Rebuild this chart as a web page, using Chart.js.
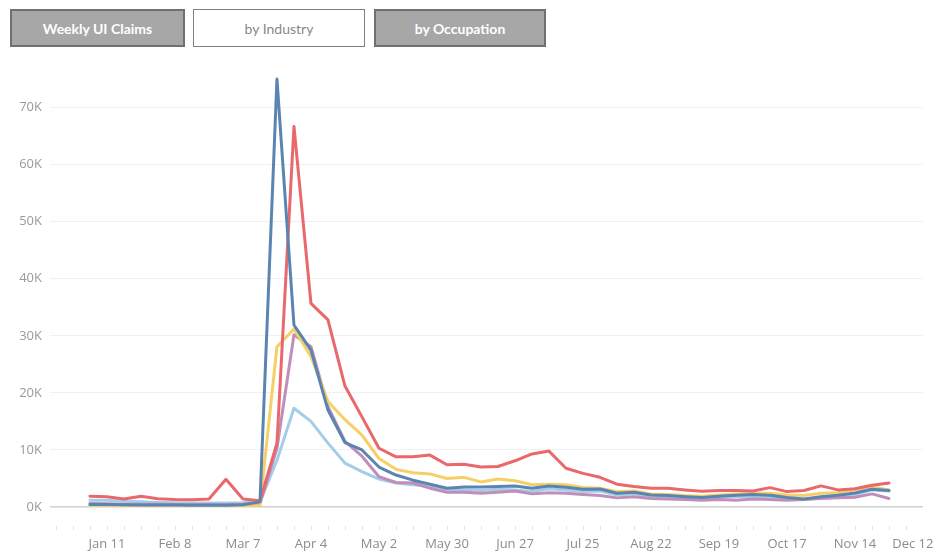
<!DOCTYPE html>
<html>
<head>
<meta charset="utf-8">
<script src="https://cdn.jsdelivr.net/npm/chart.js@4"></script>
<style>
  html, body { margin:0; padding:0; background:#fff; width:936px; height:552px; overflow:hidden; font-family: Lato, "Open Sans", sans-serif; }
  .btn { position:absolute; top:9px; height:38px; box-sizing:border-box; display:flex; align-items:center; justify-content:center; font-size:14px; }
  .grey { background:#a7a7a7; border:2px solid #707070; color:#fff; font-weight:bold; }
  .white { background:#fff; border:1.5px solid #808080; color:#888; }
  #wrap { position:absolute; left:0; top:55px; width:936px; height:497px; }
</style>
</head>
<body>
<div class="btn grey" style="left:10px;width:175px;">Weekly UI Claims</div>
<div class="btn white" style="left:193px;width:172px;">by Industry</div>
<div class="btn grey" style="left:374px;width:172px;">by Occupation</div>
<div id="wrap"><canvas id="c"></canvas></div>
<script>
// Week-ending dates (2020), one per weekly point
const weeks = ["Jan 4","Jan 11","Jan 18","Jan 25","Feb 1","Feb 8","Feb 15","Feb 22","Feb 29","Mar 7","Mar 14","Mar 21",
  "Mar 28","Apr 4","Apr 11","Apr 18","Apr 25","May 2","May 9","May 16","May 23","May 30","Jun 6","Jun 13",
  "Jun 20","Jun 27","Jul 4","Jul 11","Jul 18","Jul 25","Aug 1","Aug 8","Aug 15","Aug 22","Aug 29","Sep 5",
  "Sep 12","Sep 19","Sep 26","Oct 3","Oct 10","Oct 17","Oct 24","Oct 31","Nov 7","Nov 14","Nov 21","Nov 28"];

// X-axis tick labels (every 4 weeks, week index -> label)
const xTickIdx = [1,5,9,13,17,21,25,29,33,37,41,45,49];
const xTickLabels = ["Jan 11","Feb 8","Mar 7","Apr 4","May 2","May 30","Jun 27","Jul 25","Aug 22","Sep 19","Oct 17","Nov 14","Dec 12"];

// Y-axis tick values
const yTicks = [0,10000,20000,30000,40000,50000,60000,70000];

// Series values (weekly UI claims)
const seriesBlue = [450,450,400,350,350,350,300,300,300,400,900,75000,
  31900,27500,17000,11300,10000,7000,5600,4700,4000,3300,3500,3500,
  3600,3700,3300,3700,3450,3100,3150,2400,2600,2100,2000,1800,
  1650,1900,2050,2200,2050,1650,1400,1800,2050,2450,3100,2900];
const seriesRed = [1900,1800,1400,1900,1450,1300,1250,1400,4850,1400,1100,11200,
  66700,35700,32800,21200,15800,10300,8800,8800,9100,7400,7500,7000,
  7100,8100,9300,9800,6800,5900,5200,4000,3600,3300,3300,3000,
  2750,2900,2900,2800,3400,2700,2900,3700,3000,3200,3800,4200];
const seriesYellow = [300,300,250,250,250,250,200,200,200,200,200,28100,
  31200,26400,18500,15300,12600,8500,6600,6000,5800,5000,5200,4400,
  4900,4600,3900,4000,3900,3400,3300,2700,2800,2300,2200,2000,
  1900,2100,2300,2400,2400,2100,2000,2400,2500,3000,3500,3000];
const seriesPurple = [600,550,500,500,500,450,450,450,450,500,600,10300,
  30200,28100,17600,11500,8900,5300,4300,4200,3300,2600,2600,2400,
  2600,2800,2300,2500,2400,2200,2000,1600,1800,1500,1400,1300,
  1200,1300,1200,1400,1300,1200,1300,1500,1600,1700,2300,1500];
const seriesLightBlue = [1200,1200,1000,900,800,750,700,700,700,750,900,8200,
  17300,15000,11200,7700,6200,4900,4200,3900,3600,3100,3000,2900,
  3100,3000,2700,3200,3000,2700,2800,2100,2300,1900,1800,1600,
  1500,1700,1800,1900,1800,1400,1300,1700,1900,2200,3000,2800];

const FONT = '"Open Sans", Lato, sans-serif';
const toPts = arr => arr.map((v, i) => ({ x: i, y: v }));

const weekMarks = {
  id: 'weekMarks',
  afterDraw(chart) {
    const xs = chart.scales.x, ctx = chart.ctx;
    const y0 = chart.chartArea.bottom + 19;
    ctx.save();
    ctx.strokeStyle = '#e2e2e2';
    ctx.lineWidth = 1;
    for (let w = -2; w <= 49; w++) {
      const px = Math.round(xs.getPixelForValue(w)) + 0.5;
      if (px < chart.chartArea.left || px > chart.chartArea.right) continue;
      ctx.beginPath(); ctx.moveTo(px, y0); ctx.lineTo(px, y0 + 4); ctx.stroke();
    }
    ctx.restore();
  }
};

const ds = (label, data, color) => ({
  label, data: toPts(data), borderColor: color, backgroundColor: color,
  borderWidth: 3, pointRadius: 0, tension: 0, borderJoinStyle: 'round', borderCapStyle: 'round'
});

new Chart(document.getElementById('c'), {
  type: 'line',
  data: {
    datasets: [
      ds('Industry A', seriesBlue, '#5b84b1'),
      ds('Industry B', seriesRed, '#e9686c'),
      ds('Industry C', seriesYellow, '#f6d067'),
      ds('Industry D', seriesPurple, '#bf8fba'),
      ds('Industry E', seriesLightBlue, '#a4cdea')
    ]
  },
  options: {
    responsive: true,
    maintainAspectRatio: false,
    animation: false,
    layout: { padding: { top: 7, right: 13, left: 0, bottom: 0 } },
    plugins: { legend: { display: false }, tooltip: { enabled: false } },
    scales: {
      x: {
        type: 'linear',
        min: -2.35, max: 49,
        afterBuildTicks: s => { s.ticks = xTickIdx.map(v => ({ value: v })); },
        afterFit: s => { s.height = 45; s.paddingLeft = 0; s.paddingRight = 0; },
        ticks: {
          autoSkip: false, maxRotation: 0, padding: 29,
          color: '#8c8c8c', font: { family: FONT, size: 13 },
          callback: (v) => {
            const k = xTickIdx.indexOf(v);
            if (k < 0) return '';
            return k === xTickLabels.length - 1 ? xTickLabels[k] + '\u00a0\u00a0\u00a0\u00a0\u00a0\u00a0' : xTickLabels[k];
          }
        },
        grid: { display: false, drawTicks: false },
        border: { display: false }
      },
      y: {
        min: 0, max: 78000,
        afterBuildTicks: s => { s.ticks = yTicks.map(v => ({ value: v })); },
        afterFit: s => { s.width = 50; s.paddingTop = 0; s.paddingBottom = 0; },
        ticks: {
          color: '#9a9a9a', font: { family: FONT, size: 13 }, padding: 8,
          callback: v => (v / 1000) + 'K'
        },
        grid: {
          color: ctx => ctx.tick && ctx.tick.value === 0 ? '#d0d0d0' : '#f0f0f0',
          lineWidth: ctx => ctx.tick && ctx.tick.value === 0 ? 1.5 : 1,
          drawTicks: false
        },
        border: { display: false }
      }
    }
  },
  plugins: [weekMarks]
});
</script>
</body>
</html>
